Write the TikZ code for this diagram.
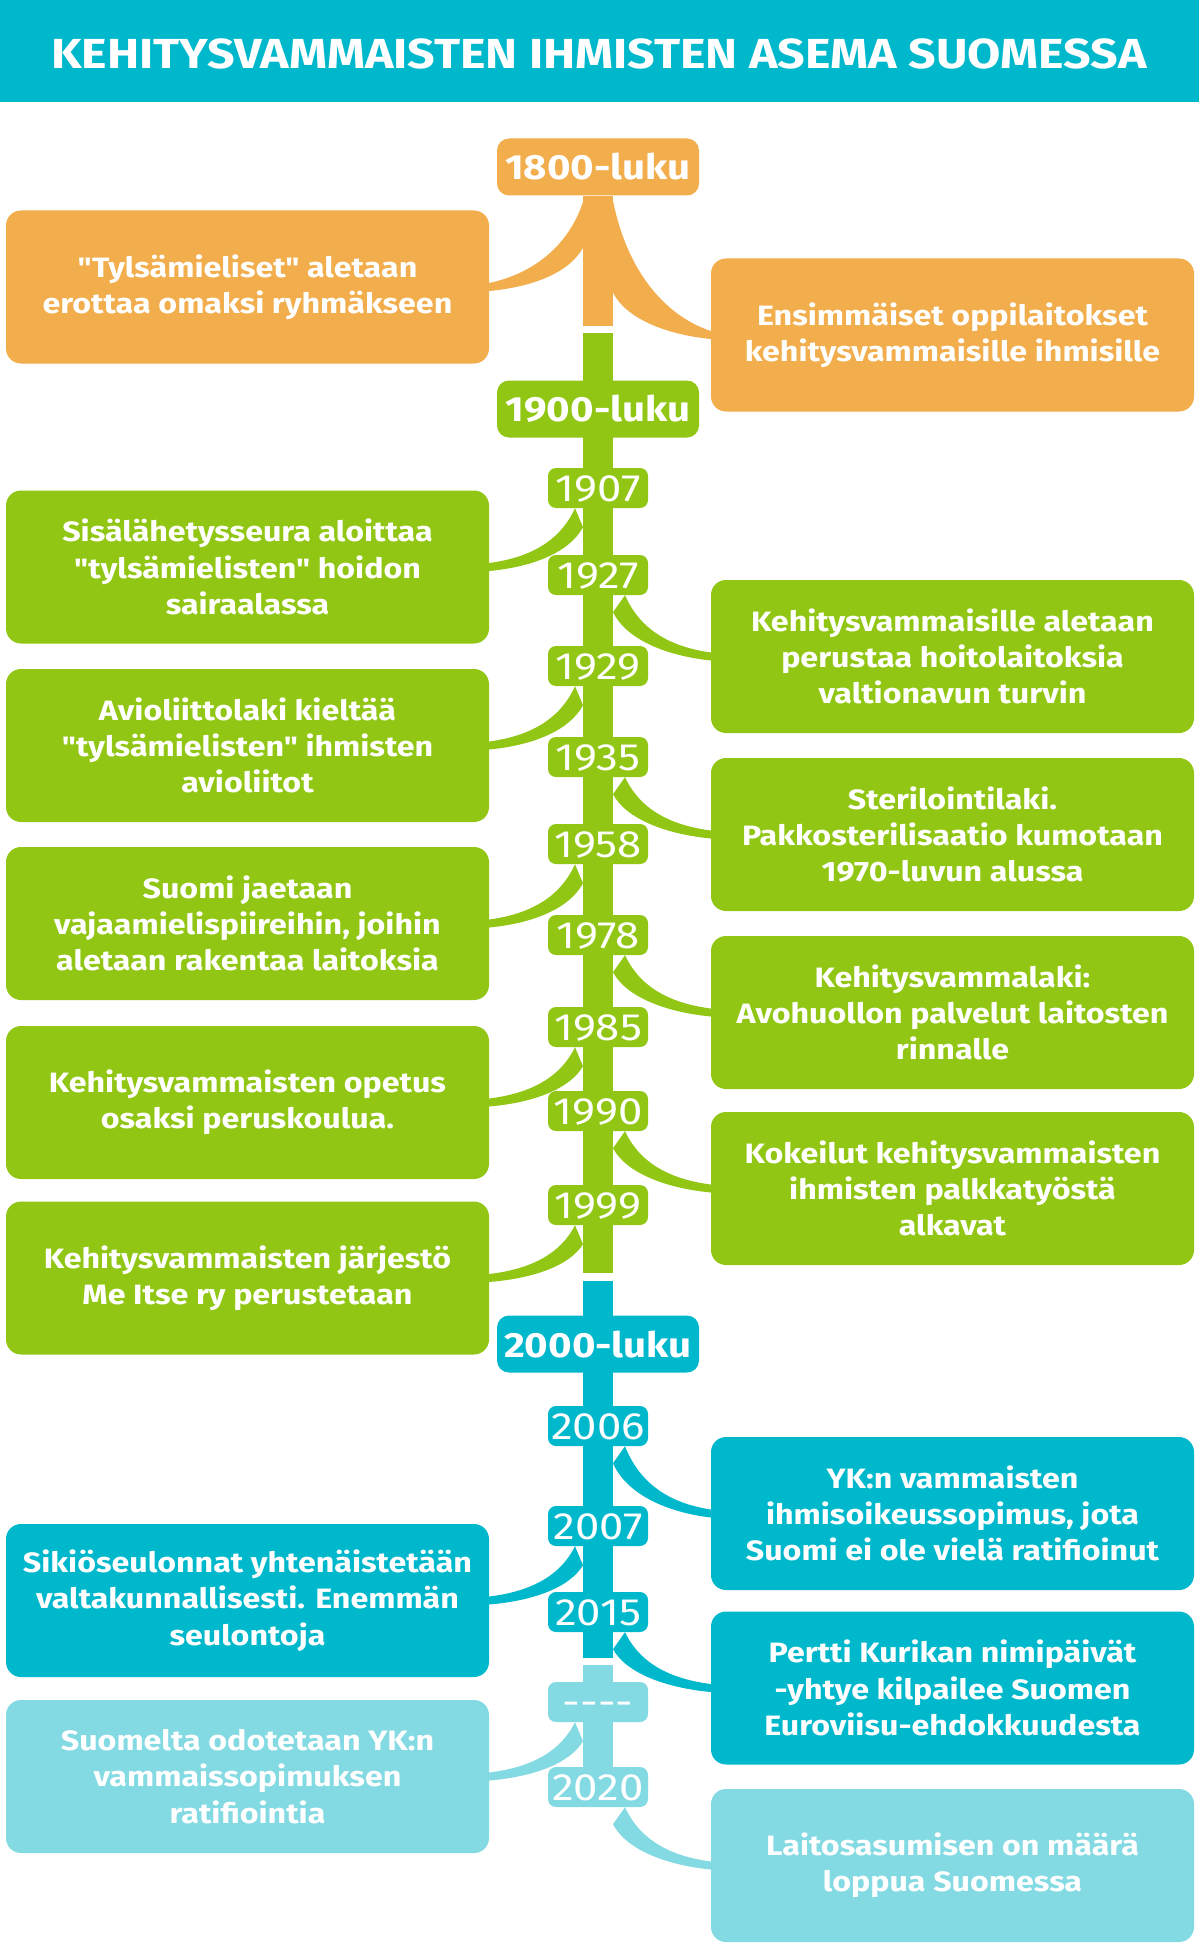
\documentclass[tikz,border=0pt]{standalone}
\usepackage{fontspec}
\setmainfont{Fira Sans}[Ligatures=TeXOff, FakeStretch=1.15]
\usetikzlibrary{backgrounds, calc}

\definecolor{orangeC}{HTML}{F2AD4C}
\definecolor{greenC}{HTML}{91C714}
\definecolor{tealC}{HTML}{00B8CC}
\definecolor{lightC}{HTML}{83DAE3}

\tikzset{
  title/.style={text=white, inner sep=0pt, font=\fontsize{42}{42}\selectfont\bfseries},
  event/.style={rectangle, rounded corners=15pt, minimum width=483pt, minimum height=153pt,
    inner sep=0pt, align=center, text=white, font=\fontsize{28}{36.3}\selectfont\bfseries},
  period/.style={rectangle, rounded corners=12pt, minimum width=202pt, minimum height=57pt,
    inner sep=0pt, text=white, font=\fontsize{35}{35}\selectfont\bfseries},
  year/.style={rectangle, rounded corners=8pt, minimum width=100pt, minimum height=40pt,
    inner sep=0pt, text height=26pt, text depth=0pt, text=white, font=\fontsize{38}{38}\selectfont},
  spine/.style={line width=30pt}
}

% branch from a year (#2) to an event box (#3) on the left / right
\newcommand{\branchleft}[5]{%
  \fill[#1] let \p1=(#2.south), \p2=(#3.east),
      \n1={\y1-\y2-4pt}, \n2={\y1-#5pt-\y2+4pt} in
    (\x1-#4pt,\y1)
      .. controls (\x1-#4pt-15pt,\y1-0.6*\n1) and (\x2+41pt,\y2+4pt+0.1*\n1) .. (\x2,\y2+4pt)
    -- (\x2,\y2-4pt)
      .. controls (\x2+46pt,\y2-4pt+0.1*\n2) and (\x1-28pt,\y1-#5pt-0.55*\n2) .. (\x1-15pt,\y1-#5pt)
    -- cycle;}
\newcommand{\branchright}[5]{%
  \fill[#1] let \p1=(#2.south), \p2=(#3.west),
      \n1={\y1-\y2-4pt}, \n2={\y1-#5pt-\y2+4pt} in
    (\x1+#4pt,\y1)
      .. controls (\x1+#4pt+15pt,\y1-0.6*\n1) and (\x2-41pt,\y2+4pt+0.1*\n1) .. (\x2,\y2+4pt)
    -- (\x2,\y2-4pt)
      .. controls (\x2-46pt,\y2-4pt+0.1*\n2) and (\x1+28pt,\y1-#5pt-0.55*\n2) .. (\x1+15pt,\y1-#5pt)
    -- cycle;}

\begin{document}
\begin{tikzpicture}[x=1pt, y=-1pt]
  \useasboundingbox (0,0) rectangle (1199,1953);

  % Title bar
  \fill[tealC] (0,0) rectangle (1199,102);
  \node[title] (title) at (599,54) {KEHITYSVAMMAISTEN IHMISTEN ASEMA SUOMESSA};

  % Periods and years
  \node[period, fill=orangeC] (p1800) at (598,167) {1800-luku};
  \node[period, fill=greenC] (p1900) at (598,409) {1900-luku};
  \node[year, fill=greenC] (y1907) at (598,488) {1907};
  \node[year, fill=greenC] (y1927) at (598,575) {1927};
  \node[year, fill=greenC] (y1929) at (598,666) {1929};
  \node[year, fill=greenC] (y1935) at (598,757) {1935};
  \node[year, fill=greenC] (y1958) at (598,844) {1958};
  \node[year, fill=greenC] (y1978) at (598,935) {1978};
  \node[year, fill=greenC] (y1985) at (598,1027) {1985};
  \node[year, fill=greenC] (y1990) at (598,1111) {1990};
  \node[year, fill=greenC] (y1999) at (598,1205) {1999};
  \node[period, fill=tealC] (p2000) at (598,1344) {2000-luku};
  \node[year, fill=tealC] (y2006) at (598,1426) {2006};
  \node[year, fill=tealC] (y2007) at (598,1526) {2007};
  \node[year, fill=tealC] (y2015) at (598,1612) {2015};
  \node[year, fill=lightC] (ynext) at (598,1702) {----};
  \node[year, fill=lightC] (y2020) at (598,1787) {2020};

  % Events on the left
  \node[event, fill=orangeC] (tylsa) at (247.5,287) {"Tylsämieliset" aletaan\\erottaa omaksi ryhmäkseen};
  \node[event, fill=greenC] (hoito) at (247.5,567) {Sisälähetysseura aloittaa\\"tylsämielisten" hoidon\\sairaalassa};
  \node[event, fill=greenC] (avio) at (247.5,745.5) {Avioliittolaki kieltää\\"tylsämielisten" ihmisten\\avioliitot};
  \node[event, fill=greenC] (piiri) at (247.5,923.5) {Suomi jaetaan\\vajaamielispiireihin, joihin\\aletaan rakentaa laitoksia};
  \node[event, fill=greenC] (opetus) at (247.5,1102.5) {Kehitysvammaisten opetus\\osaksi peruskoulua.};
  \node[event, fill=greenC] (jarjesto) at (247.5,1278) {Kehitysvammaisten järjestö\\Me Itse ry perustetaan};
  \node[event, fill=tealC] (seulonta) at (247.5,1600.5) {Sikiöseulonnat yhtenäistetään\\valtakunnallisesti. Enemmän\\seulontoja};
  \node[event, fill=lightC] (odotus) at (247.5,1776.5) {Suomelta odotetaan YK:n\\vammaissopimuksen\\ratifiointia};

  % Events on the right
  \node[event, fill=orangeC] (oppi) at (952.5,335) {Ensimmäiset oppilaitokset\\kehitysvammaisille ihmisille};
  \node[event, fill=greenC] (laitos) at (952.5,656.5) {Kehitysvammaisille aletaan\\perustaa hoitolaitoksia\\valtionavun turvin};
  \node[event, fill=greenC] (steril) at (952.5,834.5) {Sterilointilaki.\\Pakkosterilisaatio kumotaan\\1970-luvun alussa};
  \node[event, fill=greenC] (laki) at (952.5,1012.5) {Kehitysvammalaki:\\Avohuollon palvelut laitosten\\rinnalle};
  \node[event, fill=greenC] (kokeilu) at (952.5,1188.5) {Kokeilut kehitysvammaisten\\ihmisten palkkatyöstä\\alkavat};
  \node[event, fill=tealC] (ykn) at (952.5,1513.5) {YK:n vammaisten\\ihmisoikeussopimus, jota\\Suomi ei ole vielä ratifioinut};
  \node[event, fill=tealC] (pertti) at (952.5,1688) {Pertti Kurikan nimipäivät\\-yhtye kilpailee Suomen\\Euroviisu-ehdokkuudesta};
  \node[event, fill=lightC] (loppu) at (952.5,1865.5) {Laitosasumisen on määrä\\loppua Suomessa};

  % Time line
  \begin{scope}[on background layer]
    \fill[white] (0,0) rectangle (1199,1953);
    \coordinate (endA) at (598,326);
    \coordinate (startB) at (598,333);
    \coordinate (endB) at (598,1273);
    \coordinate (startC) at (598,1281);
    \coordinate (endC) at (598,1658);
    \coordinate (startD) at (598,1665);
    \draw[spine, orangeC] (p1800.south) -- (endA);
    \draw[spine, greenC] (startB) -- (endB);
    \draw[spine, tealC] (startC) -- (endC);
    \draw[spine, lightC] (startD) -- (y2020.north);
  \end{scope}

  % Branches
  \branchleft{orangeC}{p1800}{tylsa}{13}{52}
  \branchright{orangeC}{p1800}{oppi}{14}{97}
  \branchleft{greenC}{y1907}{hoito}{23}{19}
  \branchright{greenC}{y1927}{laitos}{27}{17}
  \branchleft{greenC}{y1929}{avio}{23}{19}
  \branchright{greenC}{y1935}{steril}{27}{17}
  \branchleft{greenC}{y1958}{piiri}{23}{19}
  \branchright{greenC}{y1978}{laki}{27}{17}
  \branchleft{greenC}{y1985}{opetus}{23}{19}
  \branchright{greenC}{y1990}{kokeilu}{27}{17}
  \branchleft{greenC}{y1999}{jarjesto}{23}{19}
  \branchright{tealC}{y2006}{ykn}{27}{17}
  \branchleft{tealC}{y2007}{seulonta}{23}{19}
  \branchright{tealC}{y2015}{pertti}{27}{17}
  \branchleft{lightC}{ynext}{odotus}{23}{19}
  \branchright{lightC}{y2020}{loppu}{27}{17}
\end{tikzpicture}
\end{document}
